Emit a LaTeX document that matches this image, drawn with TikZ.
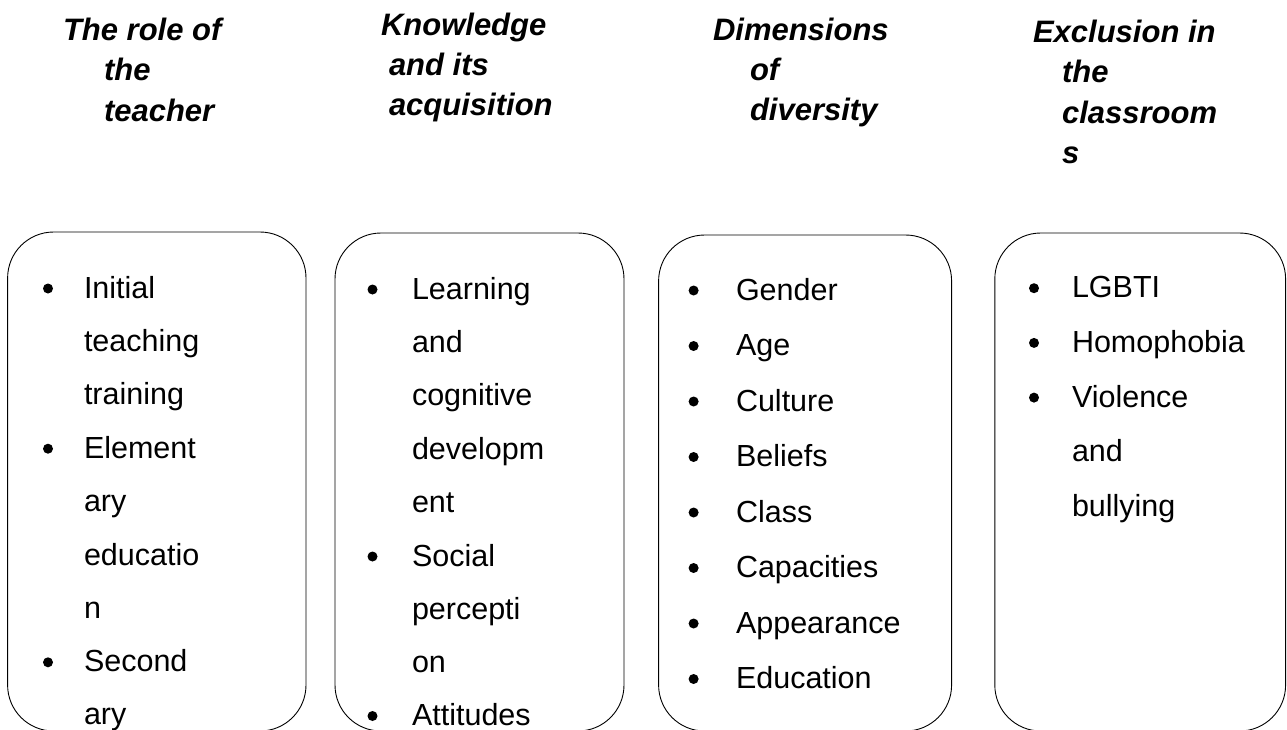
\documentclass[tikz,border=0pt]{standalone}
\usepackage{fontspec}
\setmainfont{Liberation Sans}
\begin{document}
\begin{tikzpicture}[x=1pt,y=-1pt,
  every node/.style={inner sep=0pt, outer sep=0pt},
  heading/.style={anchor=base west, font=\fontsize{31}{37}\selectfont\bfseries\itshape},
  entry/.style={anchor=base west, font=\fontsize{30.5}{36}\selectfont},
  dot/.style={circle, fill=black, minimum size=10pt, yshift=9.5pt},
  panel/.style={draw=black, line width=0.9pt, rounded corners=46pt, anchor=north west}]
\useasboundingbox (0,0) rectangle (1287,729);

% column headings
\node[heading] (h1a) at (63,40)  {The role of};
\node[heading] (h1b) at (104,80) {the};
\node[heading] (h1c) at (104,121) {teacher};

\node[heading] (h2a) at (381,35)  {Knowledge};
\node[heading] (h2b) at (389,75)  {and its};
\node[heading] (h2c) at (389,115) {acquisition};

\node[heading] (h3a) at (713,40)  {Dimensions};
\node[heading] (h3b) at (750,80)  {of};
\node[heading] (h3c) at (750,120) {diversity};

\node[heading] (h4a) at (1033,42)  {Exclusion in};
\node[heading] (h4b) at (1062,82)  {the};
\node[heading] (h4c) at (1062,123) {classroom};
\node[heading] (h4d) at (1062,163) {s};

% rounded panels
\node[panel, minimum width=298.4pt, minimum height=499pt] (p1) at (7.6,232) {};
\node[panel, minimum width=289pt,   minimum height=498pt] (p2) at (335,233) {};
\node[panel, minimum width=293pt,   minimum height=496pt] (p3) at (658.6,235) {};
\node[panel, minimum width=290.8pt, minimum height=498pt] (p4) at (994.8,233) {};

% panel 1 (bullet dots sit 9.5 above the baseline of their line)
\node[dot] (d1a) at (48,298) {};
\node[dot] (d1b) at (48,458.2) {};
\node[dot] (d1c) at (48,671.8) {};
\node[entry] (t1a) at (84,298)   {Initial};
\node[entry] (t1b) at (84,351.4) {teaching};
\node[entry] (t1c) at (84,404.8) {training};
\node[entry] (t1d) at (84,458.2) {Element};
\node[entry] (t1e) at (84,511.6) {ary};
\node[entry] (t1f) at (84,565)   {educatio};
\node[entry] (t1g) at (84,618.4) {n};
\node[entry] (t1h) at (84,671.8) {Second};
\node[entry] (t1i) at (84,724.5) {ary};

% panel 2
\node[dot] (d2a) at (372.5,299) {};
\node[dot] (d2b) at (372.5,566) {};
\node[dot] (d2c) at (372.5,725.5) {};
\node[entry] (t2a) at (412,299)   {Learning};
\node[entry] (t2b) at (412,352.4) {and};
\node[entry] (t2c) at (412,405.8) {cognitive};
\node[entry] (t2d) at (412,459.2) {developm};
\node[entry] (t2e) at (412,512.6) {ent};
\node[entry] (t2f) at (412,566)   {Social};
\node[entry] (t2g) at (412,619.4) {percepti};
\node[entry] (t2h) at (412,672.8) {on};
\node[entry] (t2i) at (412,725.5) {Attitudes};

% panel 3
\foreach \txt [count=\k from 0] in {Gender,Age,Culture,Beliefs,Class,Capacities,Appearance,Education}{
  \node[dot]   (d3-\k) at (693.6,300+55.5*\k) {};
  \node[entry] (t3-\k) at (736,300+55.5*\k) {\txt};
}

% panel 4
\node[dot] (d4a) at (1034,297.7) {};
\node[dot] (d4b) at (1034,352.4) {};
\node[dot] (d4c) at (1034,407.1) {};
\node[entry] (t4a) at (1072,297.7) {LGBTI};
\node[entry] (t4b) at (1072,352.4) {Homophobia};
\node[entry] (t4c) at (1072,407.1) {Violence};
\node[entry] (t4d) at (1072,461.8) {and};
\node[entry] (t4e) at (1072,516.5) {bullying};
\end{tikzpicture}
\end{document}
